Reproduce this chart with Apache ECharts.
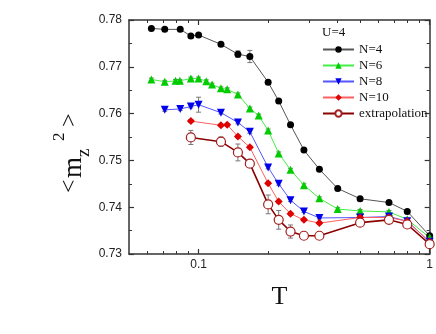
<!DOCTYPE html>
<html>
<head>
<meta charset="utf-8">
<script src="https://cdn.jsdelivr.net/npm/echarts@6/dist/echarts.min.js"></script>
<style>
  html, body { margin: 0; padding: 0; background: #fff; }
  #main { width: 436px; height: 334px; }
</style>
</head>
<body>
<div id="main"></div>
<script>
// temperatures and <m_z^2>
var tN4 = [0.0625, 0.0714, 0.0833, 0.0926, 0.1, 0.125, 0.148, 0.1667, 0.2, 0.2222, 0.25, 0.2857, 0.3333, 0.4, 0.5, 0.6667, 0.8, 1];
var mN4 = [0.7782, 0.7780, 0.7780, 0.7766, 0.7768, 0.7748, 0.7727, 0.7722, 0.7667, 0.7627, 0.7576, 0.7522, 0.7481, 0.7440, 0.7418, 0.7410, 0.7391, 0.7339];
var eN4 = [0.0002, 0.0002, 0.0002, 0.0002, 0.0002, 0.0002, 0.0007, 0.0013, 0.0003, 0.0002, 0.0002, 0.0002, 0.0001, 0.0001, 0.0001, 0.0001, 0.0001, 0.0001];

var tN6 = [0.0625, 0.0714, 0.0795, 0.083, 0.0926, 0.1, 0.108, 0.1144, 0.125, 0.133, 0.148, 0.1667, 0.182, 0.2, 0.2222, 0.25, 0.2857, 0.3333, 0.4, 0.5, 0.6667, 0.8, 1];
var mN6 = [0.7673, 0.7668, 0.7670, 0.7670, 0.7675, 0.7675, 0.7669, 0.7662, 0.7654, 0.7652, 0.7641, 0.7611, 0.7596, 0.7564, 0.7515, 0.7480, 0.7447, 0.7419, 0.7396, 0.7392, 0.7390, 0.7374, 0.7335];
var eN6 = [0.0003, 0.0003, 0.0003, 0.0003, 0.0003, 0.0003, 0.0003, 0.0003, 0.0003, 0.0003, 0.0003, 0.0003, 0.0003, 0.0003, 0.0003, 0.0003, 0.0003, 0.0003, 0.0003, 0.0003, 0.0003, 0.0003, 0.0002];

var tN8 = [0.0714, 0.0833, 0.0926, 0.1, 0.125, 0.148, 0.1667, 0.2, 0.2222, 0.25, 0.2857, 0.3333, 0.5, 0.6667, 0.8, 1];
var mN8 = [0.7608, 0.7610, 0.7615, 0.7619, 0.7602, 0.7581, 0.7561, 0.7485, 0.7450, 0.7415, 0.7391, 0.7377, 0.7378, 0.7380, 0.7370, 0.7326];
var eN8 = [0.0003, 0.0003, 0.0003, 0.0016, 0.0003, 0.0003, 0.0003, 0.0003, 0.0003, 0.0003, 0.0002, 0.0002, 0.0002, 0.0002, 0.0002, 0.0002];

var tN10 = [0.0926, 0.125, 0.133, 0.148, 0.1667, 0.2, 0.2222, 0.25, 0.2857, 0.3333, 0.5, 0.6667, 0.8, 1];
var mN10 = [0.7584, 0.7575, 0.7576, 0.7551, 0.7528, 0.7451, 0.7412, 0.7386, 0.7373, 0.7366, 0.7378, 0.7378, 0.7370, 0.7326];
var eN10 = [0.0003, 0.0003, 0.0003, 0.0003, 0.0003, 0.0003, 0.0003, 0.0003, 0.0003, 0.0003, 0.0003, 0.0003, 0.0003, 0.0002];

var tExt = [0.0926, 0.125, 0.148, 0.1667, 0.2, 0.2222, 0.25, 0.2857, 0.3333, 0.5, 0.6667, 0.8, 1];
var mExt = [0.7549, 0.7540, 0.7517, 0.7493, 0.7406, 0.7373, 0.7348, 0.7339, 0.7339, 0.7367, 0.7373, 0.7363, 0.7321];
var eExt = [0.0015, 0.0010, 0.0018, 0.0008, 0.0020, 0.0020, 0.0014, 0.0005, 0.0004, 0.0004, 0.0004, 0.0004, 0.0004];

var xMajor = [0.1, 1];
var xMinor = [0.06, 0.07, 0.08, 0.09, 0.2, 0.3, 0.4, 0.5, 0.6, 0.7, 0.8, 0.9];
var yTicks = [0.73, 0.74, 0.75, 0.76, 0.77, 0.78];

var chartDom = document.getElementById('main');
var myChart = echarts.init(chartDom, null, { renderer: 'canvas' });

function pairs(t, m) {
  return t.map(function (v, i) { return [v, m[i]]; });
}
function bars(t, m, e) {
  return t.map(function (v, i) { return [v, m[i] - e[i], m[i] + e[i]]; });
}
// vertical error bar with small caps
function errBar(params, api) {
  var top = api.coord([api.value(0), api.value(2)]);
  var bot = api.coord([api.value(0), api.value(1)]);
  var w = 2.5;
  var st = { stroke: '#777', lineWidth: 1 };
  return {
    type: 'group',
    children: [
      { type: 'line', shape: { x1: top[0], y1: top[1], x2: bot[0], y2: bot[1] }, style: st },
      { type: 'line', shape: { x1: top[0] - w, y1: top[1], x2: top[0] + w, y2: top[1] }, style: st },
      { type: 'line', shape: { x1: bot[0] - w, y1: bot[1], x2: bot[0] + w, y2: bot[1] }, style: st }
    ]
  };
}
function errSeries(t, m, e) {
  return {
    type: 'custom',
    renderItem: errBar,
    data: bars(t, m, e),
    encode: { x: 0, y: [1, 2] },
    silent: true,
    z: 1
  };
}

var tickCol = '#333';
var axisLine = { show: true, lineStyle: { color: '#333', width: 1.5 } };
var serif = 'Liberation Serif';
var sans = 'Liberation Sans';

var option = {
  animation: false,
  backgroundColor: '#fff',
  grid: { left: 129, right: 3, top: 20, bottom: 80, containLabel: false },
  legend: {
    orient: 'vertical',
    left: 322,
    top: 43,
    padding: 0,
    itemWidth: 31,
    itemHeight: 8,
    itemGap: 3,
    textStyle: { fontFamily: serif, fontSize: 13, lineHeight: 13, color: '#111' },
    data: ['N=4', 'N=6', 'N=8', 'N=10', 'extrapolation']
  },
  xAxis: [
    {
      type: 'log', logBase: 10, min: 0.05, max: 1, position: 'bottom',
      axisLine: axisLine,
      axisTick: { show: true, inside: true, length: 5, customValues: xMajor, lineStyle: { color: tickCol, width: 1.2 } },
      axisLabel: { customValues: xMajor, margin: 5, fontFamily: sans, fontSize: 12, color: '#222',
        formatter: function (v) { return v >= 1 ? '1' : '0.1'; } },
      splitLine: { show: false },
      name: 'T', nameLocation: 'middle', nameGap: 30,
      nameTextStyle: { fontFamily: serif, fontSize: 26, color: '#111' }
    },
    {
      type: 'log', logBase: 10, min: 0.05, max: 1, position: 'bottom',
      axisLine: { show: false },
      axisTick: { show: true, inside: true, length: 3, customValues: xMinor, lineStyle: { color: tickCol, width: 1 } },
      axisLabel: { show: false },
      splitLine: { show: false }
    },
    {
      type: 'log', logBase: 10, min: 0.05, max: 1, position: 'top',
      axisLine: axisLine,
      axisTick: { show: true, inside: true, length: 5, customValues: xMajor, lineStyle: { color: tickCol, width: 1.2 } },
      axisLabel: { show: false },
      splitLine: { show: false }
    },
    {
      type: 'log', logBase: 10, min: 0.05, max: 1, position: 'top',
      axisLine: { show: false },
      axisTick: { show: true, inside: true, length: 3, customValues: xMinor, lineStyle: { color: tickCol, width: 1 } },
      axisLabel: { show: false },
      splitLine: { show: false }
    }
  ],
  yAxis: [
    {
      type: 'value', min: yTicks[0], max: yTicks[yTicks.length - 1], interval: 0.01, position: 'left',
      axisLine: axisLine,
      axisTick: { show: true, inside: true, length: 5, lineStyle: { color: tickCol, width: 1.2 } },
      minorTick: { show: true, splitNumber: 2, length: 3, lineStyle: { color: tickCol, width: 1 } },
      axisLabel: { margin: 7, fontFamily: sans, fontSize: 12, color: '#222',
        formatter: function (v) { return v.toFixed(2); } },
      splitLine: { show: false }
    },
    {
      type: 'value', min: yTicks[0], max: yTicks[yTicks.length - 1], interval: 0.01, position: 'right',
      axisLine: axisLine,
      axisTick: { show: true, inside: true, length: 5, lineStyle: { color: tickCol, width: 1.2 } },
      minorTick: { show: true, splitNumber: 2, length: 3, lineStyle: { color: tickCol, width: 1 } },
      axisLabel: { show: false },
      splitLine: { show: false }
    }
  ],
  graphic: [
    {
      type: 'text', left: 322, top: 26,
      style: { text: 'U=4', fontFamily: serif, fontSize: 13, fill: '#111' }
    },
    {
      // rotated y title: < m_z^2 >
      type: 'group', x: 76, y: 193, rotation: Math.PI / 2,
      children: [
        { type: 'text', x: 0, y: -6, style: { text: '<', fontFamily: serif, fontSize: 24, fill: '#111', verticalAlign: 'middle' } },
        { type: 'text', x: 15, y: -2, style: { text: 'm', fontFamily: serif, fontSize: 27, fill: '#111', verticalAlign: 'middle' } },
        { type: 'text', x: 36, y: 8, style: { text: 'z', fontFamily: serif, fontSize: 19, fill: '#111', verticalAlign: 'middle' } },
        { type: 'text', x: 52, y: -16, style: { text: '2', fontFamily: serif, fontSize: 17, fill: '#111', verticalAlign: 'middle' } },
        { type: 'text', x: 66, y: -6, style: { text: '>', fontFamily: serif, fontSize: 24, fill: '#111', verticalAlign: 'middle' } }
      ]
    }
  ],
  series: [
    errSeries(tN4, mN4, eN4),
    errSeries(tN6, mN6, eN6),
    errSeries(tN8, mN8, eN8),
    errSeries(tN10, mN10, eN10),
    errSeries(tExt, mExt, eExt),
    {
      name: 'N=4', type: 'line', data: pairs(tN4, mN4), z: 3,
      symbol: 'circle', symbolSize: 7,
      lineStyle: { color: '#555', width: 1 },
      itemStyle: { color: '#000' }
    },
    {
      name: 'N=6', type: 'line', data: pairs(tN6, mN6), z: 3,
      symbol: 'triangle', symbolSize: 8,
      lineStyle: { color: '#44ee44', width: 1 },
      itemStyle: { color: '#00cc00' }
    },
    {
      name: 'N=8', type: 'line', data: pairs(tN8, mN8), z: 3,
      symbol: 'triangle', symbolRotate: 180, symbolSize: 8,
      lineStyle: { color: '#5555ff', width: 1 },
      itemStyle: { color: '#0000ee' }
    },
    {
      name: 'N=10', type: 'line', data: pairs(tN10, mN10), z: 3,
      symbol: 'diamond', symbolSize: 8,
      lineStyle: { color: '#ff6060', width: 1 },
      itemStyle: { color: '#e00000' }
    },
    {
      name: 'extrapolation', type: 'line', data: pairs(tExt, mExt), z: 4,
      symbol: 'circle', symbolSize: 9,
      lineStyle: { color: '#8b0000', width: 1.6 },
      itemStyle: { color: '#fff', borderColor: '#a52020', borderWidth: 1.2 }
    }
  ]
};
option && myChart.setOption(option);
</script>
</body>
</html>
